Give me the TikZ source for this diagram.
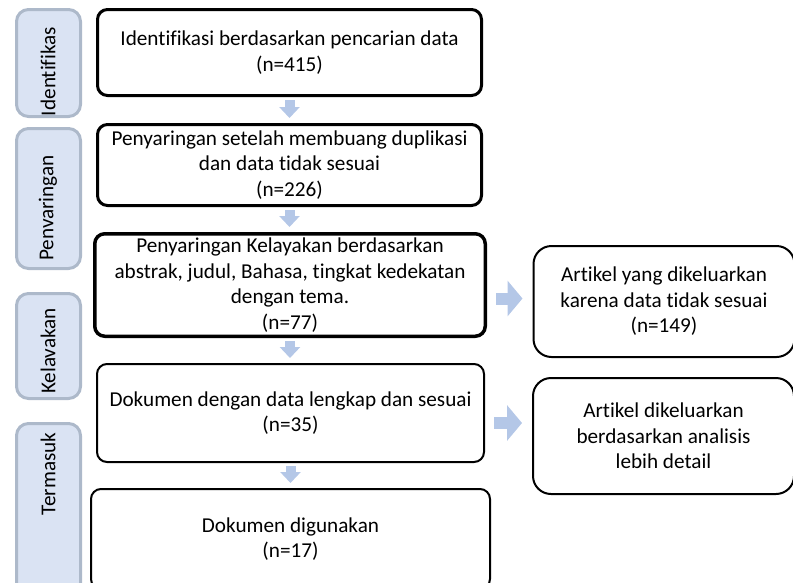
\documentclass[tikz,border=0pt]{standalone}
\usepackage{fontspec}
\setmainfont{Carlito}[Ligatures=NoCommon]
\usetikzlibrary{arrows.meta,calc}
\definecolor{lblfill}{HTML}{DAE3F3}
\definecolor{lbldraw}{HTML}{ADB9CA}
\definecolor{arrfill}{HTML}{B4C7E7}
\begin{document}
\begin{tikzpicture}[x=1pt,y=-1pt, font=\fontsize{21.2}{25.6}\selectfont, line join=round,
	box/.style={draw=black, rounded corners=10pt, align=center, inner sep=0pt},
	thickbox/.style={box, line width=3pt},
	thinbox/.style={box, line width=2pt},
	sidebox/.style={draw=lbldraw, fill=lblfill, line width=3pt, rounded corners=12pt, minimum width=64pt, inner sep=0pt},
	sidetext/.style={rotate=90, inner sep=0pt},
	downarrow/.style={arrfill, line width=10pt, -{Triangle[width=20pt,length=11pt]}, shorten <=3pt, shorten >=5pt},
	rightarrow/.style={arrfill, line width=12pt, -{Triangle[width=35pt,length=15pt]}, shorten <=9pt, shorten >=10pt}]
			\useasboundingbox (0,0) rectangle (793,582);
			\clip (0,0) rectangle (793,582);
			% tahap di kiri
			\node[sidebox, minimum height=107pt] (s1) at (48.5,63) {};
			\node[sidebox, minimum height=140pt] (s2) at (48.5,198.5) {};
			\node[sidebox, minimum height=105pt] (s3) at (48.5,346) {};
			\node[sidebox, minimum height=185pt] (s4) at (48.5,516) {};
			\node[sidetext] (t1) at (48,71.5) {Identifikas};
			\node[sidetext] (t2) at (48,208) {Penvaringan};
			\node[sidetext] (t3) at (48,351) {Kelavakan};
			\node[sidetext] (t4) at (48,474) {Termasuk};
			% kotak utama
			\node[thickbox, minimum width=384pt, minimum height=86pt] (b1) at (289.5,52.5) {Identifikasi berdasarkan pencarian data\\(n=415)};
			\node[thickbox, minimum width=384pt, minimum height=81pt] (b2) at (289.5,165) {Penyaringan setelah membuang duplikasi\\dan data tidak sesuai\\(n=226)};
			\node[thickbox, line width=3.5pt, minimum width=390.5pt, minimum height=102.5pt] (b3) at (290,285) {Penyaringan Kelayakan berdasarkan\\abstrak, judul, Bahasa, tingkat kedekatan\\dengan tema.\\(n=77)};
			\node[thinbox, minimum width=387pt, minimum height=98pt] (b4) at (290.5,413) {Dokumen dengan data lengkap dan sesuai\\(n=35)};
			\node[thinbox, minimum width=399pt, minimum height=100pt] (b5) at (290.5,539) {Dokumen digunakan\\(n=17)};
			% kotak kanan
			\node[thinbox, rounded corners=18pt, minimum width=261pt, minimum height=111pt] (r1) at (664,301.5) {Artikel yang dikeluarkan\\karena data tidak sesuai\\(n=149)};
			\node[thinbox, rounded corners=18pt, minimum width=261pt, minimum height=116pt] (r2) at (663.5,436) {Artikel dikeluarkan\\berdasarkan analisis\\lebih detail};
			% panah
			\draw[downarrow] (b1.south) -- (b1.south |- b2.north);
			\draw[downarrow] (b2.south) -- (b2.south |- b3.north);
			\draw[downarrow] (b3.south) -- (b3.south |- b4.north);
			\draw[downarrow] (b4.south) -- (b4.south |- b5.north);
			\coordinate (c1) at ($(r1.west)+(0,-3)$);
			\coordinate (c2) at ($(r2.west)+(0,-13)$);
			\draw[rightarrow] (b3.east |- c1) -- (c1);
			\draw[rightarrow] (b4.east |- c2) -- (c2);
\end{tikzpicture}
\end{document}
